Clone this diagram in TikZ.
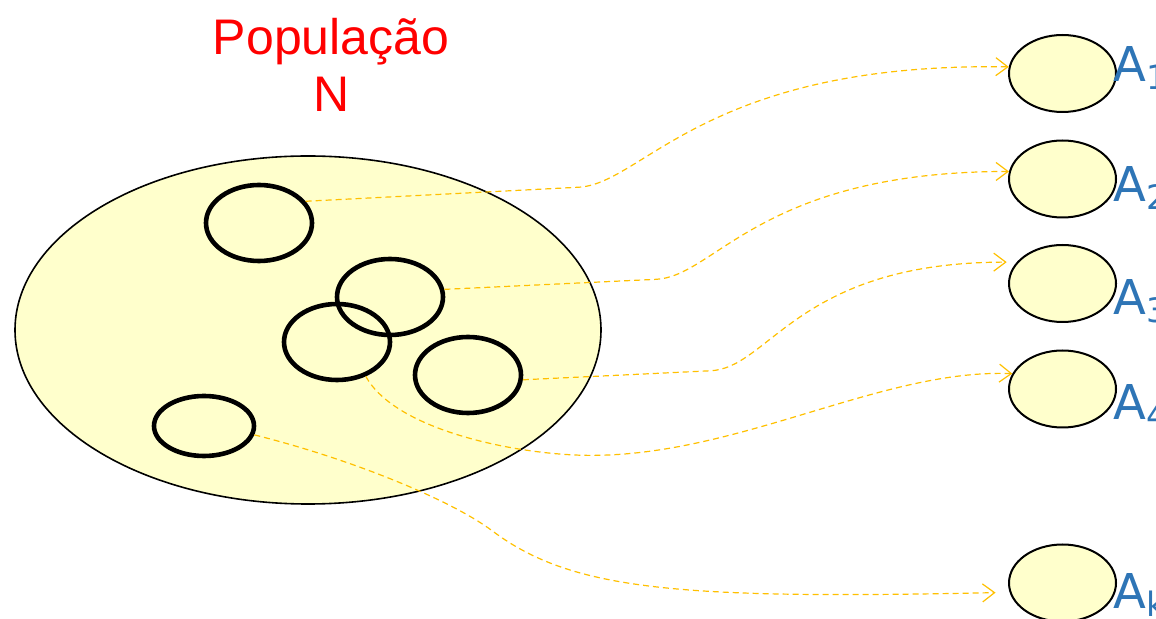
\documentclass[tikz,border=0pt]{standalone}
\usepackage{fontspec}
\usetikzlibrary{shapes.geometric,arrows.meta}
\newfontfamily\labelfont{DejaVu Sans}
\newfontfamily\titlefont{Liberation Sans}
\definecolor{popfill}{HTML}{FFFFCC}
\definecolor{linkorange}{HTML}{FFC000}
\definecolor{labelblue}{HTML}{2E75B6}

\begin{document}
\begin{tikzpicture}[x=0.5pt, y=-0.5pt,
	popshape/.style={ellipse, draw, line width=0.8pt, fill=popfill, minimum width=293pt, minimum height=174pt, inner sep=0pt},
	amostra/.style={ellipse, draw, line width=2.3pt, minimum width=53pt, minimum height=38pt, inner sep=0pt},
	grupo/.style={ellipse, draw, line width=1pt, fill=popfill, minimum width=53.5pt, minimum height=38.5pt, inner sep=0pt},
	grupolabel/.style={font=\labelfont\fontsize{24}{28}\selectfont, text=labelblue, anchor=base west, inner sep=0pt},
	elo/.style={linkorange, line width=0.6pt, dash pattern=on 3pt off 2pt, -{Straight Barb[length=6pt,width=9pt]}}]
	\useasboundingbox (0,0) rectangle (1156,619);
	% titulo
	\node[font=\titlefont\fontsize{25}{30}\selectfont, text=red, anchor=base] (pop) at (331,55) {População};
	\node[font=\titlefont\fontsize{25}{30}\selectfont, text=red, anchor=base] (popN) at (332,112) {N};
	% populacao e amostras
	\node[popshape] (popu) at (308,330) {};
	\node[amostra] (e1) at (259,223) {};
	\node[amostra] (e2) at (390,297) {};
	\node[amostra] (e3) at (337,342) {};
	\node[amostra] (e4) at (468,375) {};
	\node[amostra, minimum width=50pt, minimum height=30pt] (e5) at (204,426) {};
	% grupos A_i
	\foreach \n/\y/\b in {1/73.5/82, 2/179/202, 3/283.5/315, 4/389/420, k/583/608} {
		\node[grupo] (A\n) at (1062.5,\y) {};
		\node[grupolabel] (lab\n) at (1113,\b) {A\textsubscript{\n}};
	}
	% ligacoes
	\draw[elo] (e1.25) -- ++(272,-14) .. controls +(65,-2) and +(-305,-5) .. (A1.173);
	\draw[elo] (e2.8) -- ++(211,-10) .. controls +(60,-2) and +(-250,0) .. (A2.172);
	\draw[elo, shorten >=5pt] (e4.-5) -- ++(187,-9) .. controls +(60,-2) and +(-220,0) .. (A3.155);
	\draw[elo] (e3.-50) .. controls +(30,55) and +(-70,0) .. ++(225,79)
		.. controls +(150,0) and +(-130,-5) .. (A4.163);
	\draw[elo, shorten >=7pt] (e5.-10) .. controls +(100,25) and +(-40,-30) .. ++(238,96)
		.. controls +(80,60) and +(-330,7) .. (Ak.190);
\end{tikzpicture}
\end{document}
